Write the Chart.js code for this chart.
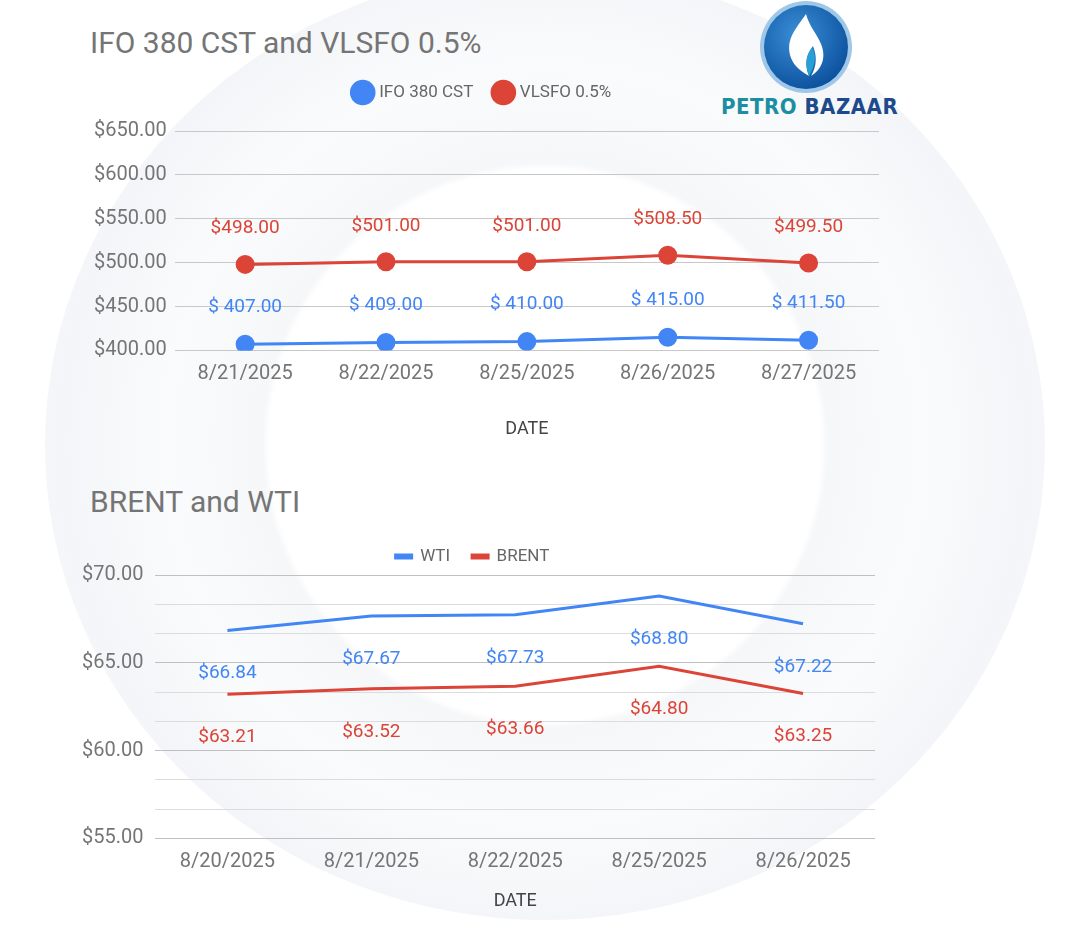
<!DOCTYPE html>
<html><head><meta charset="utf-8">
<script src="https://cdn.jsdelivr.net/npm/chart.js@4"></script>
<style>
body{margin:0;width:1075px;height:947px;background:#fff;font-family:Roboto,sans-serif;position:relative;overflow:hidden}
.t{position:absolute;color:#757575;font-size:30px}
#bg{position:absolute;left:45px;top:-30px;width:1000px;height:950px;border-radius:50%;background:radial-gradient(circle,#fff 0,#fff 40%,#f6f7f9 41%,#fafbfc 55%,#f4f5f8 70%,#fcfcfd 90%,#fff 100%)}
.c{position:absolute}
</style></head><body>
<div id="bg"></div>
<div class="t" style="left:90px;top:25px">IFO 380 CST and VLSFO 0.5%</div>
<div class="t" style="left:90px;top:484px">BRENT and WTI</div>
<svg style="position:absolute;left:755px;top:0" width="104" height="95" viewBox="0 0 104 95">
<defs><radialGradient id="g" cx="40%" cy="35%" r="70%"><stop offset="0" stop-color="#3a8fd6"/><stop offset="1" stop-color="#0b4f9c"/></radialGradient></defs>
<circle cx="51" cy="47" r="46" fill="#9fc7e8"/><circle cx="51" cy="47" r="42" fill="url(#g)"/>
<path d="M51 14 C40 30 30 40 36 58 C40 68 48 72 54 76 C50 66 50 56 58 46 C62 56 62 66 56 76 C66 70 72 58 66 44 C62 34 54 26 51 14Z" fill="#fff"/>
<path d="M57 48 C50 56 50 66 54 76 C60 66 62 56 57 48Z" fill="#2a9fd6"/>
</svg>
<div style="position:absolute;left:721px;top:94px;font:bold 22px 'DejaVu Sans Condensed',sans-serif;letter-spacing:0.5px"><span style="color:#1b8ea3">PETRO</span> <span style="color:#1d4a8c">BAZAAR</span></div>
<div class="c" style="left:86px;top:62px;width:804px;height:382px"><canvas id="c1"></canvas></div>
<div class="c" style="left:70px;top:526px;width:820px;height:390px"><canvas id="c2"></canvas></div>
<script>
const dates1=["8/21/2025","8/22/2025","8/25/2025","8/26/2025","8/27/2025"];
const ifo=[407.00,409.00,410.00,415.00,411.50];
const vlsfo=[498.00,501.00,501.00,508.50,499.50];
const ifoLabels=["$ 407.00","$ 409.00","$ 410.00","$ 415.00","$ 411.50"];
const vlsfoLabels=["$498.00","$501.00","$501.00","$508.50","$499.50"];
const dates2=["8/20/2025","8/21/2025","8/22/2025","8/25/2025","8/26/2025"];
const wti=[66.84,67.67,67.73,68.80,67.22];
const brent=[63.21,63.52,63.66,64.80,63.25];
const BLUE="#4285f4",RED="#db4437";
const labelPlugin={id:'lbl',afterDatasetsDraw(ch){const ctx=ch.ctx;ctx.save();ctx.font="19px Roboto";ctx.textAlign="center";ctx.textBaseline="middle";
ch.data.datasets.forEach((ds,i)=>{const m=ch.getDatasetMeta(i);m.data.forEach((p,j)=>{ctx.fillStyle=ds.borderColor;ctx.fillText(ds.lbls[j],p.x,p.y+ds.off);});});ctx.restore();}};
const tickFont={family:"Roboto",size:20};
Chart.defaults.font.family="Roboto";
const padLegend={id:'pl',beforeInit(ch){const f=ch.legend.fit;ch.legend.fit=function(){f.bind(ch.legend)();this.height+=ch.options.extraLegend||0;};}};
new Chart(c1,{type:'line',plugins:[labelPlugin,padLegend],data:{labels:dates1,datasets:[
{label:"IFO 380 CST",data:ifo,borderColor:BLUE,backgroundColor:BLUE,pointRadius:8,borderWidth:3,lbls:ifoLabels,off:-37},
{label:"VLSFO 0.5%",data:vlsfo,borderColor:RED,backgroundColor:RED,pointRadius:8,borderWidth:3,lbls:vlsfoLabels,off:-36}]},
options:{extraLegend:20,responsive:true,maintainAspectRatio:false,animation:false,layout:{padding:{top:0,right:10}},
plugins:{legend:{labels:{usePointStyle:true,pointStyle:'circle',boxWidth:16,boxHeight:16,font:{size:17},color:"#666",padding:22}},tooltip:{enabled:false}},
scales:{x:{offset:true,grid:{display:false},border:{display:false},ticks:{font:tickFont,color:"#757575",padding:4},title:{display:true,text:"DATE",font:{size:18},color:"#444",padding:{top:28}}},
y:{min:400,max:650,ticks:{stepSize:50,font:tickFont,color:"#757575",callback:v=>"$"+v.toFixed(2),padding:8},grid:{color:"#c8c8c8",drawTicks:false},border:{display:false}}}}});
new Chart(c2,{type:'line',plugins:[labelPlugin],data:{labels:dates2,datasets:[
{label:"WTI",data:wti,borderColor:BLUE,backgroundColor:BLUE,pointRadius:0,borderWidth:3,lbls:wti.map(v=>"$"+v.toFixed(2)),off:43},
{label:"BRENT",data:brent,borderColor:RED,backgroundColor:RED,pointRadius:0,borderWidth:3,lbls:brent.map(v=>"$"+v.toFixed(2)),off:43}]},
options:{responsive:true,maintainAspectRatio:false,animation:false,layout:{padding:{right:15}},
plugins:{legend:{labels:{boxWidth:16,boxHeight:3,font:{size:17},color:"#666",padding:22}},tooltip:{enabled:false}},
scales:{x:{offset:true,grid:{display:false},border:{display:false},ticks:{font:tickFont,color:"#757575",padding:4},title:{display:true,text:"DATE",font:{size:18},color:"#444",padding:{top:12}}},
y:{min:55,max:70,ticks:{stepSize:5/3,font:tickFont,color:"#757575",padding:12,callback:v=>Math.abs(v/5-Math.round(v/5))<1e-6?"$"+v.toFixed(2):""},
grid:{color:c=>Math.abs(c.tick.value/5-Math.round(c.tick.value/5))<1e-6?"#c0c0c0":"#dcdcdc",drawTicks:false},border:{display:false}}}}});
</script></body></html>
